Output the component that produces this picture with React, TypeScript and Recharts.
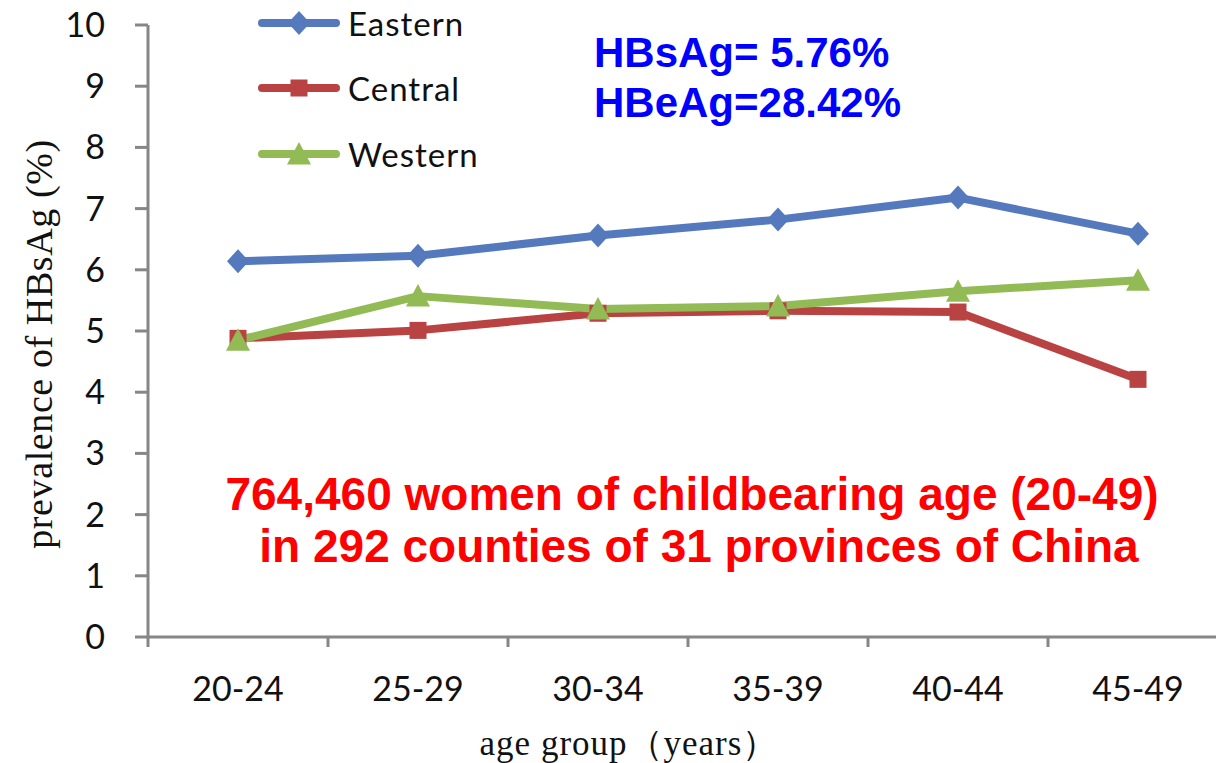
import { LineChart, Line, XAxis, YAxis, Legend } from "recharts";

const ageGroups = ["20-24", "25-29", "30-34", "35-39", "40-44", "45-49"];
const eastern = [6.14, 6.23, 6.56, 6.82, 7.18, 6.59];
const central = [4.88, 5.01, 5.29, 5.33, 5.31, 4.21];
const western = [4.85, 5.57, 5.36, 5.41, 5.65, 5.83];
const yTicks = [0, 1, 2, 3, 4, 5, 6, 7, 8, 9, 10];

const series = [
  { key: "eastern", name: "Eastern", color: "#5579bd", marker: "diamond" },
  { key: "central", name: "Central", color: "#b94242", marker: "square" },
  { key: "western", name: "Western", color: "#92bb55", marker: "triangle" },
];

const data = ageGroups.map((g, i) => ({
  group: g,
  eastern: eastern[i],
  central: central[i],
  western: western[i],
}));

const CHART_W = 1240;
const CHART_H = 763;
const Y_AXIS_W = 148;
const RIGHT = 12;
const PLOT_W = CHART_W - Y_AXIS_W - RIGHT;
const STEP = PLOT_W / ageGroups.length;
const AXIS_GREY = "#868686";
const X_TICK_SIZE = 10;
const X_TICK_MARGIN = 30;

function Marker({ cx, cy, type, color }: { cx: number; cy: number; type: string; color: string }) {
  if (cx == null || cy == null) return null;
  if (type === "diamond") {
    return (
      <polygon
        points={`${cx},${cy - 12} ${cx + 11},${cy} ${cx},${cy + 12} ${cx - 11},${cy}`}
        fill={color}
      />
    );
  }
  if (type === "square") {
    return <rect x={cx - 8.5} y={cy - 8.5} width={17} height={17} fill={color} />;
  }
  return (
    <polygon
      points={`${cx},${cy - 12} ${cx + 12},${cy + 10.5} ${cx - 12},${cy + 10.5}`}
      fill={color}
    />
  );
}

function AgeTick(props: any) {
  const { x, y, payload, index } = props;
  const axisY = y - X_TICK_SIZE - X_TICK_MARGIN;
  return (
    <g>
      {index === 0 && (
        <line x1={x - STEP / 2} x2={x - STEP / 2} y1={axisY} y2={axisY + X_TICK_SIZE} stroke={AXIS_GREY} strokeWidth={3} />
      )}
      <line x1={x + STEP / 2} x2={x + STEP / 2} y1={axisY} y2={axisY + X_TICK_SIZE} stroke={AXIS_GREY} strokeWidth={3} />
      <text x={x} y={y} dy="0.71em" textAnchor="middle" fontSize={34} fill="#111" fontFamily="Lato, sans-serif">
        {payload.value}
      </text>
    </g>
  );
}

function LegendBox() {
  return (
    <div style={{ display: "flex", flexDirection: "column" }}>
      {series.map((s) => (
        <div key={s.key} style={{ display: "flex", alignItems: "center", height: 65.5 }}>
          <svg width={82} height={30}>
            <line x1={4} x2={78} y1={15} y2={15} stroke={s.color} strokeWidth={8} strokeLinecap="round" />
            <Marker cx={41} cy={15} type={s.marker} color={s.color} />
          </svg>
          <span style={{ fontFamily: "Lato, sans-serif", fontSize: 33, color: "#111", marginLeft: 8, letterSpacing: 1 }}>
            {s.name}
          </span>
        </div>
      ))}
    </div>
  );
}

export default function App() {
  return (
    <div style={{ position: "absolute", left: 0, top: 0, width: 1216, height: 763, overflow: "hidden", background: "#fff" }}>
      <LineChart width={CHART_W} height={CHART_H} data={data} margin={{ top: 25, right: RIGHT, left: 0, bottom: 0 }}>
        <XAxis
          dataKey="group"
          height={126}
          padding={{ left: STEP / 2, right: STEP / 2 }}
          axisLine={{ stroke: AXIS_GREY, strokeWidth: 3 }}
          tickLine={false}
          tickSize={X_TICK_SIZE}
          tickMargin={X_TICK_MARGIN}
          tick={<AgeTick />}
          interval={0}
        />
        <YAxis
          width={Y_AXIS_W}
          domain={[0, 10]}
          ticks={yTicks}
          interval={0}
          axisLine={{ stroke: AXIS_GREY, strokeWidth: 3 }}
          tickLine={{ stroke: AXIS_GREY, strokeWidth: 3 }}
          tickSize={13}
          tickMargin={30}
          tick={{ fontSize: 34, fill: "#111", fontFamily: "Lato, sans-serif" }}
        />
        <Legend
          layout="vertical"
          align="center"
          verticalAlign="middle"
          content={<LegendBox />}
          wrapperStyle={{ left: 258, top: -10, width: 270 }}
        />
        {series.map((s) => (
          <Line
            key={s.key}
            dataKey={s.key}
            name={s.name}
            type="linear"
            stroke={s.color}
            strokeWidth={8}
            strokeLinejoin="round"
            isAnimationActive={false}
            dot={(p: any) => <Marker key={`${s.key}-${p.index}`} cx={p.cx} cy={p.cy} type={s.marker} color={s.color} />}
            activeDot={false}
          />
        ))}
        <text
          x={52}
          y={344}
          transform="rotate(-90, 52, 344)"
          textAnchor="middle"
          fontSize={38}
          letterSpacing={0.6}
          fontFamily="'Liberation Serif', serif"
          fill="#111"
        >
          prevalence of HBsAg (%)
        </text>
        <text x={629} y={755} textAnchor="middle" fontSize={35} letterSpacing={1} fontFamily="'Liberation Serif', serif" fill="#111">
          age group（years）
        </text>
        <g fontFamily="'Liberation Sans', Arial, sans-serif" fontWeight="bold" fontSize={42} fill="#0000ff">
          <text x={594} y={67}>HBsAg= 5.76%</text>
          <text x={594} y={117}>HBeAg=28.42%</text>
        </g>
        <g fontFamily="'Liberation Sans', Arial, sans-serif" fontWeight="bold" fontSize={46} fill="#ff0000" textAnchor="middle">
          <text x={692} y={510}>764,460 women of childbearing age (20-49)</text>
          <text x={699} y={562}>in 292 counties of 31 provinces of China</text>
        </g>
      </LineChart>
    </div>
  );
}
